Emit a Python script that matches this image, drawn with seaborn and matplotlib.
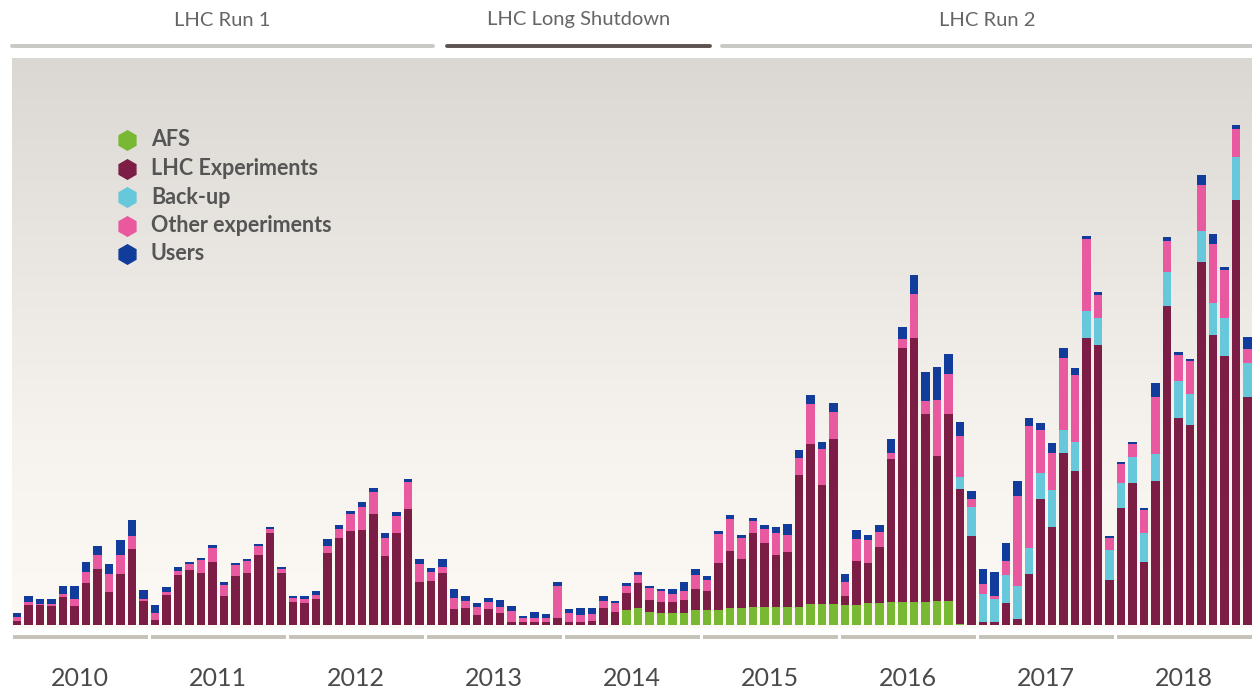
import numpy as np
import pandas as pd
import matplotlib
matplotlib.use("Agg")
import matplotlib.pyplot as plt
from matplotlib.colors import LinearSegmentedColormap
import seaborn as sns

plt.rcParams['font.family'] = ['Lato', 'DejaVu Sans']

years = [2010, 2011, 2012, 2013, 2014, 2015, 2016, 2017, 2018]
months = [f"{y}-{m:02d}" for y in years for m in range(1, 13)]

afs = [0] * 53 + [15, 17, 13, 12, 12, 12, 15,
                  15, 15, 17, 17, 18, 18, 18, 18, 18, 21, 21, 21,
                  20, 20, 22, 22, 23, 23, 23, 23, 24, 24, 1, 0] + [0] * 24

lhc = [4, 20, 20, 19, 28, 19, 42, 56, 33, 51, 76, 24,
       5, 30, 50, 55, 52, 63, 29, 49, 52, 70, 92, 52,
       23, 22, 26, 72, 87, 94, 95, 111, 69, 92, 116, 43,
       44, 52, 16, 17, 10, 16, 12, 3, 3, 3, 3, 7,
       3, 3, 4, 17, 13, 17, 25, 12, 11, 11, 13, 21,
       19, 47, 57, 49, 74, 64, 52, 55, 132, 160, 119, 165,
       9, 44, 40, 56, 143, 254, 264, 188, 145, 187, 135, 89,
       3, 3, 22, 6, 51, 126, 98, 172, 154, 287, 280, 45,
       117, 142, 63, 144, 319, 207, 200, 363, 290, 269, 425, 228]

backup = [0] * 82 + [12, 29,
                     28, 23, 28, 33, 26, 26, 37, 23, 29, 27, 27, 30,
                     25, 26, 29, 27, 34, 37, 31, 31, 32, 38, 43, 34]

other = [4, 3, 1, 2.5, 3, 7, 11, 14, 18, 19, 13, 2,
         7, 3, 4, 6, 13, 14, 11, 11, 12, 9, 4, 4,
         4, 4, 4, 7, 9, 17, 23, 22, 18, 17, 27, 18,
         9, 6, 11, 7, 8, 7, 6, 11, 4, 4, 4, 32,
         9, 7, 7, 7, 9, 7, 8, 12, 11, 8, 9, 14,
         11, 29, 32, 21, 12, 14, 22, 17, 17, 40, 36, 27,
         14, 22, 23, 15, 6, 9, 44, 13, 56, 40, 41, 8,
         10, 3, 14, 90, 122, 43, 37, 72, 67, 72, 23, 12,
         19, 13, 23, 57, 31, 26, 33, 46, 59, 48, 28, 14]

users = [4, 6, 5, 5, 8, 13, 10, 9, 10, 15, 16, 9,
         8, 5, 4, 2, 2, 3, 3, 2, 2, 2, 2, 2,
         2, 3, 4, 7, 4, 3, 5, 4, 5, 4, 3, 5,
         4, 8, 9, 5, 4, 4, 7, 5, 2, 6, 4, 4,
         4, 7, 6, 5, 2, 3, 3, 2, 2, 5, 9, 6,
         4, 3, 4, 3, 3, 4, 6, 11, 8, 9, 7, 9,
         8, 9, 5, 7, 14, 12, 19, 29, 33, 20, 14, 8,
         15, 24, 18, 15, 8, 7, 10, 10, 7, 3, 3, 2,
         2, 2, 2, 14, 4, 3, 2, 10, 10, 3, 4, 12]

series_names = ["AFS", "LHC Experiments", "Back-up", "Other experiments", "Users"]
series_vals = [afs, lhc, backup, other, users]
colors = ["#78b833", "#7b1d44", "#66c8da", "#e8599f", "#123c9b"]

periods = ["LHC Run 1", "LHC Long Shutdown", "LHC Run 2"]
period_spans = [(-0.43, 36.17), (37.4, 60.3), (61.3, 107.5)]
period_colors = ["#c9c8c2", "#5b5350", "#c9c8c2"]

df = pd.DataFrame({"month": months})
for n, v in zip(series_names, series_vals):
    df[n] = np.array(v, dtype=float)
cum = df[series_names].cumsum(axis=1)

W, H = 1252, 694
fig = plt.figure(figsize=(W / 100, H / 100), dpi=100)
# axes spans pixels x 12..1252, y 58..694 (top-origin)
ax = fig.add_axes([12 / W, 0, 1 - 12 / W, (694 - 58) / H])

x0, x1 = -0.435, 107.39
y0, y1 = -69, 567

# background gradient
grad = np.linspace(1, 0, 256).reshape(-1, 1)
cmap = LinearSegmentedColormap.from_list("bg", ["#fdfaf6", "#f6f2ed", "#e9e5e0", "#dbd7d2"])
ax.imshow(grad, extent=[x0, x1, -3, y1], aspect="auto", cmap=cmap, origin="upper",
          zorder=0, interpolation="bilinear")

# stacked bars: draw cumulative totals from top layer down
for name, col in reversed(list(zip(series_names, colors))):
    sns.barplot(x=df["month"], y=cum[name], order=months, color=col, saturation=1,
                width=0.74, errorbar=None, linewidth=0, ax=ax, zorder=2)

ax.set_xlim(x0, x1)
ax.set_ylim(y0, y1)
ax.axis("off")

# year segments and labels
for k, yr in enumerate(years):
    a, b = 12 * k - 0.37, 12 * k + 11 + 0.37
    ax.plot([a, b], [-12, -12], color="#c7c2b7", lw=2.8, solid_capstyle="butt",
            clip_on=False, zorder=3)
    ax.text(12 * k + 5.5, -54, str(yr), ha="center", va="center", fontsize=18,
            color="#4a4a4a", clip_on=False)

# period header
for lab, (a, b), c in zip(periods, period_spans, period_colors):
    ax.plot([a, b], [579, 579], color=c, lw=2.8, solid_capstyle="round",
            clip_on=False, zorder=3)
    ax.text((a + b) / 2, 605, lab, ha="center", va="center", fontsize=14.5,
            color="#666666", clip_on=False)

# legend
for k, (name, col) in enumerate(zip(series_names, colors)):
    ypx = 140 + 28.5 * k
    fig.lines.append(plt.Line2D([127 / W], [1 - ypx / H], marker="h", markersize=14,
                                color=col, ls="", transform=fig.transFigure))
    fig.text(151 / W, 1 - ypx / H, name, ha="left", va="center", fontsize=15.5,
             color="#555555", fontweight="bold")

fig.savefig("out.png", dpi=100)
